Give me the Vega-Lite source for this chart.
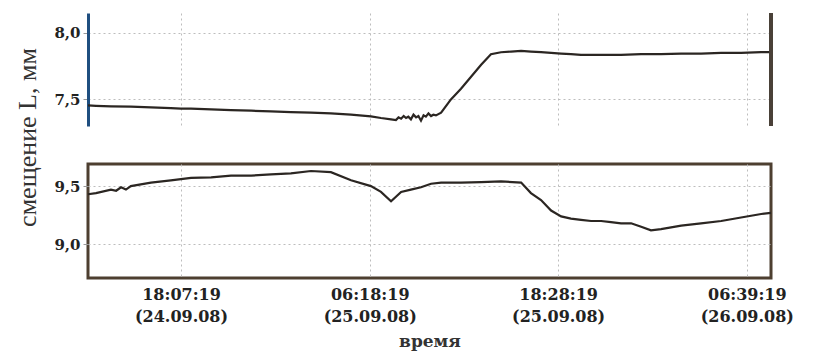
{
  "$schema": "https://vega.github.io/schema/vega-lite/v6.json",
  "background": "white",
  "padding": {"left": 13, "top": 11, "right": 5, "bottom": 5},
  "bounds": "flush",
  "spacing": 38,
  "config": {
    "view": {"stroke": null},
    "axis": {
      "labelFont": "DejaVu Serif",
      "labelFontWeight": "bold",
      "labelColor": "#222",
      "titleFont": "Liberation Serif",
      "titleColor": "#333",
      "gridColor": "#bdbdbd",
      "gridDash": [2, 3],
      "gridWidth": 1
    }
  },
  "datasets": {
    "top": [
      {"t": "2008-09-24T12:07", "v": 7.455}, {"t": "2008-09-24T12:38", "v": 7.452},
      {"t": "2008-09-24T13:36", "v": 7.448}, {"t": "2008-09-24T14:53", "v": 7.445},
      {"t": "2008-09-24T16:11", "v": 7.44}, {"t": "2008-09-24T17:28", "v": 7.435},
      {"t": "2008-09-24T18:07", "v": 7.43}, {"t": "2008-09-24T18:46", "v": 7.43},
      {"t": "2008-09-24T20:04", "v": 7.425}, {"t": "2008-09-24T21:21", "v": 7.42},
      {"t": "2008-09-24T22:39", "v": 7.415}, {"t": "2008-09-24T23:56", "v": 7.41},
      {"t": "2008-09-25T01:13", "v": 7.405}, {"t": "2008-09-25T02:31", "v": 7.4},
      {"t": "2008-09-25T03:48", "v": 7.395}, {"t": "2008-09-25T05:06", "v": 7.385},
      {"t": "2008-09-25T06:23", "v": 7.372}, {"t": "2008-09-25T07:02", "v": 7.36},
      {"t": "2008-09-25T07:41", "v": 7.35}, {"t": "2008-09-25T08:00", "v": 7.345},
      {"t": "2008-09-25T08:10", "v": 7.365}, {"t": "2008-09-25T08:20", "v": 7.355},
      {"t": "2008-09-25T08:30", "v": 7.375}, {"t": "2008-09-25T08:39", "v": 7.36},
      {"t": "2008-09-25T08:48", "v": 7.37}, {"t": "2008-09-25T08:58", "v": 7.35},
      {"t": "2008-09-25T09:08", "v": 7.385}, {"t": "2008-09-25T09:18", "v": 7.365},
      {"t": "2008-09-25T09:27", "v": 7.375}, {"t": "2008-09-25T09:37", "v": 7.34},
      {"t": "2008-09-25T09:47", "v": 7.38}, {"t": "2008-09-25T09:56", "v": 7.37},
      {"t": "2008-09-25T10:06", "v": 7.395}, {"t": "2008-09-25T10:16", "v": 7.375},
      {"t": "2008-09-25T10:25", "v": 7.385}, {"t": "2008-09-25T10:35", "v": 7.38},
      {"t": "2008-09-25T10:55", "v": 7.4}, {"t": "2008-09-25T11:33", "v": 7.5},
      {"t": "2008-09-25T12:12", "v": 7.58}, {"t": "2008-09-25T12:51", "v": 7.67},
      {"t": "2008-09-25T13:30", "v": 7.76}, {"t": "2008-09-25T14:08", "v": 7.84},
      {"t": "2008-09-25T14:47", "v": 7.855}, {"t": "2008-09-25T15:26", "v": 7.86},
      {"t": "2008-09-25T16:05", "v": 7.865}, {"t": "2008-09-25T16:43", "v": 7.86},
      {"t": "2008-09-25T17:22", "v": 7.855}, {"t": "2008-09-25T18:01", "v": 7.85},
      {"t": "2008-09-25T18:40", "v": 7.845}, {"t": "2008-09-25T19:18", "v": 7.84},
      {"t": "2008-09-25T19:57", "v": 7.835}, {"t": "2008-09-25T21:15", "v": 7.835},
      {"t": "2008-09-25T22:32", "v": 7.835}, {"t": "2008-09-25T23:50", "v": 7.84},
      {"t": "2008-09-26T01:07", "v": 7.84}, {"t": "2008-09-26T02:25", "v": 7.845},
      {"t": "2008-09-26T03:42", "v": 7.845}, {"t": "2008-09-26T05:00", "v": 7.85},
      {"t": "2008-09-26T06:17", "v": 7.85}, {"t": "2008-09-26T07:35", "v": 7.855},
      {"t": "2008-09-26T08:13", "v": 7.855}
    ],
    "bottom": [
      {"t": "2008-09-24T12:07", "v": 9.43}, {"t": "2008-09-24T12:38", "v": 9.44},
      {"t": "2008-09-24T13:36", "v": 9.47}, {"t": "2008-09-24T13:56", "v": 9.46},
      {"t": "2008-09-24T14:15", "v": 9.49}, {"t": "2008-09-24T14:34", "v": 9.47},
      {"t": "2008-09-24T14:53", "v": 9.5}, {"t": "2008-09-24T16:11", "v": 9.53},
      {"t": "2008-09-24T17:28", "v": 9.55}, {"t": "2008-09-24T18:07", "v": 9.56},
      {"t": "2008-09-24T18:46", "v": 9.57}, {"t": "2008-09-24T20:04", "v": 9.575},
      {"t": "2008-09-24T21:21", "v": 9.59}, {"t": "2008-09-24T22:39", "v": 9.59},
      {"t": "2008-09-24T23:56", "v": 9.6}, {"t": "2008-09-25T01:13", "v": 9.61},
      {"t": "2008-09-25T02:31", "v": 9.63}, {"t": "2008-09-25T03:48", "v": 9.62},
      {"t": "2008-09-25T05:06", "v": 9.55}, {"t": "2008-09-25T06:23", "v": 9.5},
      {"t": "2008-09-25T07:02", "v": 9.45}, {"t": "2008-09-25T07:41", "v": 9.37},
      {"t": "2008-09-25T08:20", "v": 9.45}, {"t": "2008-09-25T08:58", "v": 9.47},
      {"t": "2008-09-25T09:37", "v": 9.49}, {"t": "2008-09-25T10:16", "v": 9.52},
      {"t": "2008-09-25T10:55", "v": 9.53}, {"t": "2008-09-25T12:12", "v": 9.53},
      {"t": "2008-09-25T13:30", "v": 9.535}, {"t": "2008-09-25T14:47", "v": 9.54},
      {"t": "2008-09-25T16:05", "v": 9.53}, {"t": "2008-09-25T16:43", "v": 9.44},
      {"t": "2008-09-25T17:22", "v": 9.38}, {"t": "2008-09-25T18:01", "v": 9.29},
      {"t": "2008-09-25T18:40", "v": 9.24}, {"t": "2008-09-25T19:18", "v": 9.22},
      {"t": "2008-09-25T19:57", "v": 9.21}, {"t": "2008-09-25T20:36", "v": 9.2},
      {"t": "2008-09-25T21:15", "v": 9.2}, {"t": "2008-09-25T21:53", "v": 9.19},
      {"t": "2008-09-25T22:32", "v": 9.18}, {"t": "2008-09-25T23:11", "v": 9.18},
      {"t": "2008-09-25T23:50", "v": 9.15}, {"t": "2008-09-26T00:28", "v": 9.12},
      {"t": "2008-09-26T01:07", "v": 9.13}, {"t": "2008-09-26T01:46", "v": 9.145},
      {"t": "2008-09-26T02:25", "v": 9.16}, {"t": "2008-09-26T03:42", "v": 9.18},
      {"t": "2008-09-26T05:00", "v": 9.2}, {"t": "2008-09-26T06:17", "v": 9.23},
      {"t": "2008-09-26T07:35", "v": 9.26}, {"t": "2008-09-26T08:13", "v": 9.27}
    ]
  },
  "vconcat": [
    {
      "width": 683,
      "height": 113,
      "data": {"name": "top"},
      "layer": [
        {
          "mark": {"type": "line", "color": "#2b2622", "strokeWidth": 2.2},
          "encoding": {
            "x": {
              "field": "t", "type": "temporal",
              "scale": {"domain": [
                {"year": 2008, "month": 9, "date": 24, "hours": 12, "minutes": 7},
                {"year": 2008, "month": 9, "date": 26, "hours": 8, "minutes": 13}
              ]},
              "axis": {
                "orient": "bottom", "labels": false, "ticks": false, "domain": false, "title": null, "grid": true,
                "values": [
                  {"year": 2008, "month": 9, "date": 24, "hours": 18, "minutes": 7, "seconds": 19},
                  {"year": 2008, "month": 9, "date": 25, "hours": 6, "minutes": 18, "seconds": 19},
                  {"year": 2008, "month": 9, "date": 25, "hours": 18, "minutes": 28, "seconds": 19},
                  {"year": 2008, "month": 9, "date": 26, "hours": 6, "minutes": 39, "seconds": 19}
                ]
              }
            },
            "y": {
              "field": "v", "type": "quantitative",
              "scale": {"domain": [7.3, 8.15], "nice": false, "zero": false},
              "axis": {
                "values": [7.5, 8.0],
                "labelExpr": "replace(format(datum.value, '.1f'), '.', ',')",
                "labelFontSize": 15,
                "domainColor": "#1f4f80", "domainWidth": 3,
                "tickColor": "#999", "tickSize": 5,
                "labelPadding": 3,
                "title": "смещение L, мм",
                "titleFontSize": 26, "titleFontWeight": "normal",
                "titleX": -61, "titleY": 124, "titleAngle": -90,
                "titleBaseline": "middle", "titleAlign": "center"
              }
            }
          }
        },
        {
          "mark": {"type": "rule", "color": "#4a4038", "strokeWidth": 2.5},
          "encoding": {
            "x": {"datum": {"year": 2008, "month": 9, "date": 26, "hours": 8, "minutes": 13}, "type": "temporal"}
          }
        }
      ]
    },
    {
      "width": 683,
      "height": 114,
      "data": {"name": "bottom"},
      "view": {"stroke": "#4d3f30", "strokeWidth": 3},
      "mark": {"type": "line", "color": "#2b2622", "strokeWidth": 2.2},
      "encoding": {
        "x": {
          "field": "t", "type": "temporal",
          "scale": {"domain": [
            {"year": 2008, "month": 9, "date": 24, "hours": 12, "minutes": 7},
            {"year": 2008, "month": 9, "date": 26, "hours": 8, "minutes": 13}
          ]},
          "axis": {
            "values": [
              {"year": 2008, "month": 9, "date": 24, "hours": 18, "minutes": 7, "seconds": 19},
              {"year": 2008, "month": 9, "date": 25, "hours": 6, "minutes": 18, "seconds": 19},
              {"year": 2008, "month": 9, "date": 25, "hours": 18, "minutes": 28, "seconds": 19},
              {"year": 2008, "month": 9, "date": 26, "hours": 6, "minutes": 39, "seconds": 19}
            ],
            "labelExpr": "[timeFormat(datum.value, '%H:%M:%S'), '(' + timeFormat(datum.value, '%d.%m.%y') + ')']",
            "labelFontSize": 16,
            "labelLineHeight": 22,
            "labelPadding": 8,
            "labelFlush": false,
            "labelOverlap": false,
            "ticks": false, "domain": false, "grid": true,
            "title": "время",
            "titleFont": "DejaVu Serif", "titleFontWeight": "bold", "titleFontSize": 17,
            "titlePadding": 9
          }
        },
        "y": {
          "field": "v", "type": "quantitative",
          "scale": {"domain": [8.71, 9.69], "nice": false, "zero": false},
          "axis": {
            "values": [9.0, 9.5],
            "labelExpr": "replace(format(datum.value, '.1f'), '.', ',')",
            "labelFontSize": 15,
            "domain": false,
            "tickColor": "#999", "tickSize": 5,
            "labelPadding": 3,
            "title": null
          }
        }
      }
    }
  ]
}
